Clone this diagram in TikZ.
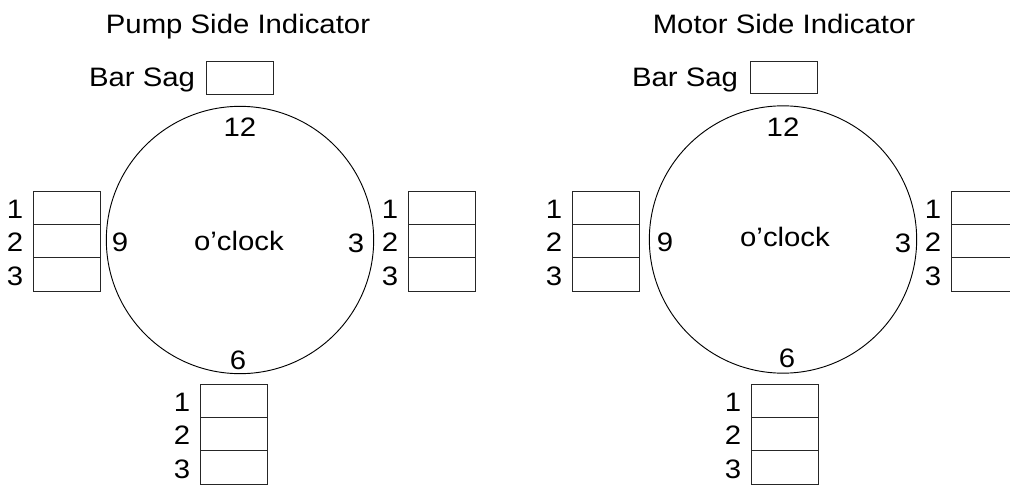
\documentclass[tikz,border=0pt]{standalone}
\usepackage{fontspec}
\setmainfont{Liberation Sans}[FakeStretch=1.1]
\usetikzlibrary{calc}
\tikzset{
  cell/.style={draw=black!85, line width=0.75pt, minimum width=50.25pt, minimum height=25pt, inner sep=0pt, outer sep=0pt},
  dial/.style={draw=black, line width=0.7pt, circle, minimum size=200.5pt, inner sep=0pt, outer sep=0pt},
  txt/.style={inner sep=0pt, outer sep=0pt, font=\fontsize{20pt}{24pt}\selectfont},
}
\newcommand\stackthree[3]{%
  \node[cell, anchor=north west] (#1a) at (#2,#3) {};
  \node[cell, anchor=north] (#1b) at (#1a.south) {};
  \node[cell, anchor=north] (#1c) at (#1b.south) {};
  \node[txt] (#1la) at ($(#1a.west)+(-18,1.5)$) {1};
  \node[txt] (#1lb) at ($(#1b.west)+(-18,1.5)$) {2};
  \node[txt] (#1lc) at ($(#1c.west)+(-18,1.5)$) {3};
}
\begin{document}
\begin{tikzpicture}[x=0.75pt, y=-0.75pt]
\useasboundingbox (0,0) rectangle (1010,485);
\clip (0,0) rectangle (1010,485);
% ---------- Pump side ----------
\node[txt, anchor=base] (ptitle) at (238,34) {Pump Side Indicator};
\node[cell, anchor=north west, minimum height=24.75pt] (psag) at (206,62) {};
\node[txt, anchor=base east] (psagl) at (195,87) {Bar Sag};
\node[dial] (pc) at (240,240) {};
\node[txt, anchor=base] (p12) at (240,137) {12};
\node[txt, anchor=base] (p9) at (120,251) {9};
\node[txt, anchor=base] (p3) at (356,252) {3};
\node[txt, anchor=base] (p6) at (238,369) {6};
\node[txt, anchor=base] (pclk) at (239,250) {o'clock};
\stackthree{pl}{33}{191}
\stackthree{pr}{408}{191}
\stackthree{pb}{200}{384}
% ---------- Motor side ----------
\node[txt, anchor=base] (mtitle) at (784,34) {Motor Side Indicator};
\node[cell, anchor=north west, minimum height=24pt] (msag) at (750,62) {};
\node[txt, anchor=base east] (msagl) at (738,87) {Bar Sag};
\node[dial] (mc) at (783,239.5) {};
\node[txt, anchor=base] (m12) at (783,137) {12};
\node[txt, anchor=base] (m9) at (665,251) {9};
\node[txt, anchor=base] (m3) at (903,252) {3};
\node[txt, anchor=base] (m6) at (787,367) {6};
\node[txt, anchor=base] (mclk) at (785,246) {o'clock};
\stackthree{ml}{572}{191}
\stackthree{mr}{951}{191}
\stackthree{mb}{751}{384}
\end{tikzpicture}
\end{document}
